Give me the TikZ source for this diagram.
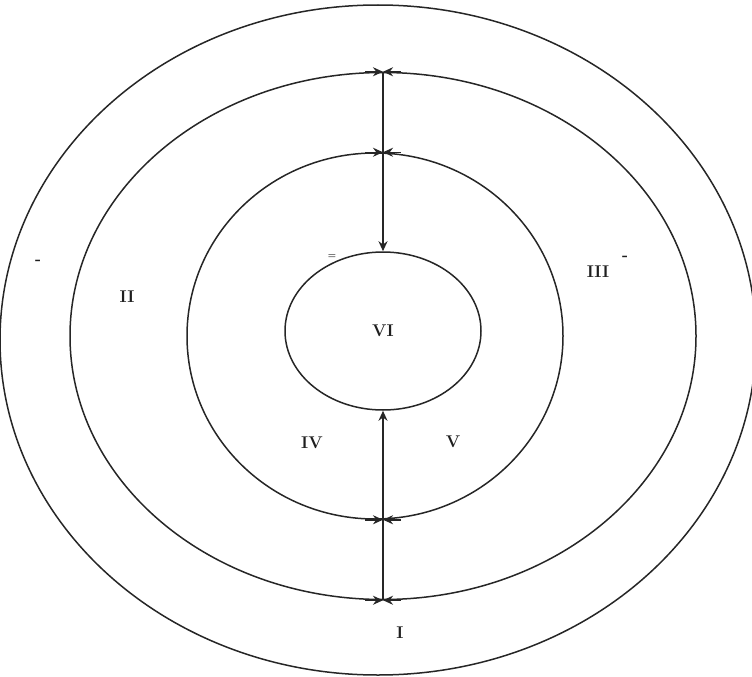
\documentclass[tikz,border=0pt]{standalone}
\usepackage{tikz}
\usetikzlibrary{arrows.meta,calc,shapes.geometric}
\definecolor{inkC}{HTML}{262626}
\definecolor{labC}{HTML}{1E1E1E}
\tikzset{
  ring/.style={ellipse, draw=inkC, line width=1.5pt, inner sep=0pt},
  tip/.style={-{Stealth[length=10pt,width=9pt]}, draw=inkC, line width=1.5pt},
  zone/.style={font=\fontsize{17}{19}\selectfont\bfseries, text=labC, inner sep=1pt},
  tick/.style={font=\fontsize{16}{18}\selectfont\bfseries, text=labC, inner sep=0pt},
}
\begin{document}
\begin{tikzpicture}[x=1pt, y=-1pt]
\useasboundingbox (0,0) rectangle (752,677);
% rings, outside in
\node[ring, minimum width=756pt, minimum height=670pt] (R1) at (378,340) {};
\node[ring, minimum width=626pt, minimum height=527pt] (R2) at (383,336) {};
\node[ring, minimum width=376pt, minimum height=366pt] (R3) at (375,336) {};
\node[ring, minimum width=196pt, minimum height=158pt, zone] (R4) at (383,331) {VI};
% connectors
\draw[tip] (R2.north) -- (R4.north);
\draw[tip] (R2.south) -- (R4.south);
\coordinate (t3) at (R2.north |- R3.north);
\coordinate (b3) at (R2.south |- R3.south);
% tips meeting the line
\foreach \p in {R2.north, t3, b3, R2.south} {
  \draw[tip] ($(\p)+(-18,0)$) -- (\p);
  \draw[tip] ($(\p)+(18,0)$) -- (\p);
}
% zones
\node[zone] (I)   at (400,633) {I};
\node[zone] (II)  at (127,297) {II};
\node[zone] (III) at (598,272) {III};
\node[zone] (IV)  at (312,443) {IV};
\node[zone] (V)   at (453,442) {V};
\node[tick] (d1) at (38,262) {-};
\node[tick] (d2) at (625,258) {-};
\node[tick, font=\small\bfseries] (d3) at (332,257) {=};
\end{tikzpicture}
\end{document}
